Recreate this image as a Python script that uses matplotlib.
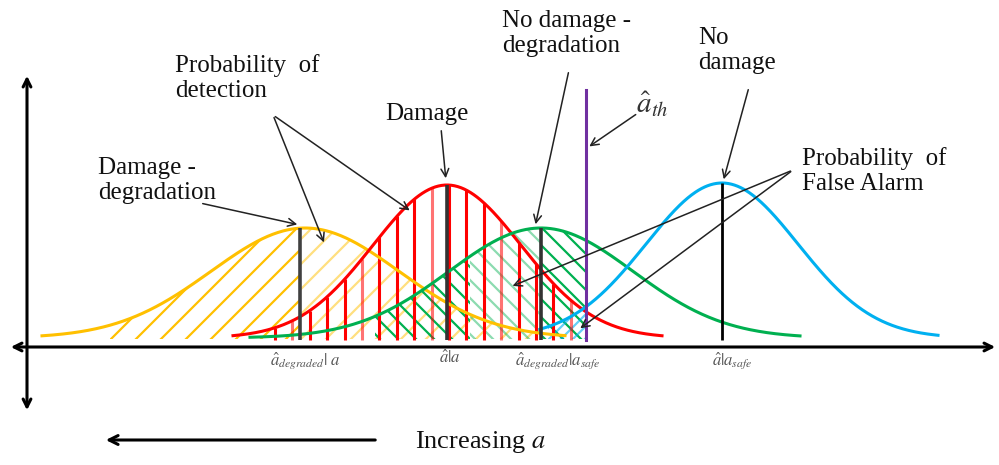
"""
Schematic of POD / PFA densities for damaged and undamaged states,
with and without degradation, and the detection threshold.
"""

import numpy as np
import matplotlib.pyplot as plt
from matplotlib.patches import Polygon
from matplotlib.collections import LineCollection

plt.rcParams["font.family"] = ["Liberation Serif", "DejaVu Serif"]
plt.rcParams["mathtext.fontset"] = "stix"

# -----------------------
# Curve parameters (canvas units, y grows downward)
# -----------------------
curve_names = ["Damage - degradation", "Damage", "No damage - degradation", "No damage"]
curve_centers = [305, 447, 541, 722]
curve_heights = [110, 153, 110, 155]
curve_sigmas = [94, 74, 92, 76]
curve_starts = [42, 233, 250, 540]
curve_ends = [565, 662, 800, 938]
curve_colors = ["#FFC000", "#FF0000", "#00B050", "#00B0F0"]
peak_colors = ["#404040", "#333333", "#333333", "#000000"]

threshold_x = 586
baseline = 338

tick_labels = [r"$\hat{a}_{degraded}|\ a$", r"$\hat{a}|a$",
               r"$\hat{a}_{degraded}|a_{safe}$", r"$\hat{a}|a_{safe}$"]


def density(i, x):
    return baseline - curve_heights[i] * np.exp(-(x - curve_centers[i]) ** 2 / (2 * curve_sigmas[i] ** 2))


def region(ax, i, lo, hi):
    """Invisible polygon under curve i between lo and hi, used for clipping."""
    xs = np.linspace(lo, hi, 200)
    pts = np.column_stack([xs, density(i, xs)])
    pts = np.vstack([pts, [[hi, baseline + 1], [lo, baseline + 1]]])
    poly = Polygon(pts, closed=True, fill=False, edgecolor="none")
    ax.add_patch(poly)
    return poly


def hatch(ax, i, lo, hi, step, direction, color, alpha=1.0, lw=1.6):
    poly = region(ax, i, lo, hi)
    segs = []
    for x0 in np.arange(lo - 300, hi + 300, step):
        # direction +1 -> "/" , -1 -> "\"
        segs.append([(x0, baseline + 2), (x0 + direction * 300, baseline + 2 - 300)])
    lc = LineCollection(segs, colors=color, linewidths=lw, alpha=alpha)
    ax.add_collection(lc)
    lc.set_clip_path(poly)


# -----------------------
# Figure
# -----------------------
fig = plt.figure(figsize=(9.99, 4.65), dpi=100)
ax = fig.add_axes([0, 0, 1, 1])
ax.set_xlim(0, 999)
ax.set_ylim(465, 0)
ax.axis("off")

# hatched regions
hatch(ax, 0, 110, 300, 25, 1, curve_colors[0])
hatch(ax, 0, 300, 545, 25, 1, curve_colors[0], alpha=0.5)
hatch(ax, 2, 375, 470, 18, -1, curve_colors[2])
hatch(ax, 2, 470, 540, 18, -1, curve_colors[2], alpha=0.45)
hatch(ax, 2, 540, threshold_x, 18, -1, curve_colors[2])
hatch(ax, 3, 548, threshold_x, 12, 1, curve_colors[3], alpha=0.6)

# red vertical hatching
for k, xv in enumerate(np.arange(275, threshold_x, 17.4)):
    ax.plot([xv, xv], [baseline + 2, density(1, xv)], color="#FF0000",
            lw=2.2, alpha=0.55 if k % 4 == 1 else 1.0, solid_capstyle="butt")

# density curves
for i in range(4):
    xs = np.linspace(curve_starts[i], curve_ends[i], 400)
    ax.plot(xs, density(i, xs), color=curve_colors[i], lw=2.2)

# peak markers
for i in range(4):
    c = curve_centers[i] - (5 if i == 0 else 0)
    ax.plot([c, c], [baseline + 2, density(i, c)], color=peak_colors[i],
            lw=2.6 if i < 3 else 2.0, solid_capstyle="butt")

# detection threshold
ax.plot([threshold_x, threshold_x], [90, baseline + 2], color="#7030A0", lw=2.2)

# axes arrows
axis_kw = dict(arrowstyle="<->", color="black", lw=2.2, mutation_scale=14)
ax.annotate("", xy=(998, 347), xytext=(8, 347), arrowprops=axis_kw)
ax.annotate("", xy=(27, 73), xytext=(27, 413), arrowprops=axis_kw)

# tick-like labels under the axis
label_offsets = [0, 3, 17, 10]
for i, lab in enumerate(tick_labels):
    ax.text(curve_centers[i] + label_offsets[i], 350, lab, ha="center", va="top",
            fontsize=12, color="#555555")

# -----------------------
# Annotations
# -----------------------
txt_kw = dict(fontsize=18, color="#111111", va="top", ha="left", linespacing=1.15)
arr_kw = dict(arrowstyle="->", color="#222222", lw=1.1, mutation_scale=14)

ax.text(175, 54, "Probability  of\ndetection", **txt_kw)
ax.annotate("", xy=(412, 212), xytext=(273, 115), arrowprops=arr_kw)
ax.annotate("", xy=(325, 245), xytext=(273, 115), arrowprops=arr_kw)

ax.text(98, 157, "Damage -\ndegradation", **txt_kw)
ax.annotate("", xy=(300, 225), xytext=(200, 203), arrowprops=arr_kw)

ax.text(385, 103, "Damage", **txt_kw)
ax.annotate("", xy=(446, 181), xytext=(441, 128), arrowprops=arr_kw)

ax.text(502, 10, "No damage -\ndegradation", **txt_kw)
ax.annotate("", xy=(535, 227), xytext=(569, 70), arrowprops=arr_kw)

ax.text(636, 90, r"$\hat{a}_{th}$", fontsize=21, color="#333333", va="top", ha="left")
ax.annotate("", xy=(587, 148), xytext=(638, 113), arrowprops=arr_kw)

ax.text(698, 27, "No\ndamage", **txt_kw)
ax.annotate("", xy=(723, 182), xytext=(749, 87), arrowprops=arr_kw)

ax.text(802, 147, "Probability  of\nFalse Alarm", **txt_kw)
ax.annotate("", xy=(510, 287), xytext=(793, 170), arrowprops=arr_kw)
ax.annotate("", xy=(578, 330), xytext=(793, 170), arrowprops=arr_kw)

# direction of increasing crack size
ax.annotate("", xy=(103, 440), xytext=(378, 440),
            arrowprops=dict(arrowstyle="->", color="black", lw=2.2, mutation_scale=16))
ax.text(415, 442, r"Increasing $a$", fontsize=19, va="center", ha="left", color="#111111")

fig.savefig("out.png", dpi=100)
